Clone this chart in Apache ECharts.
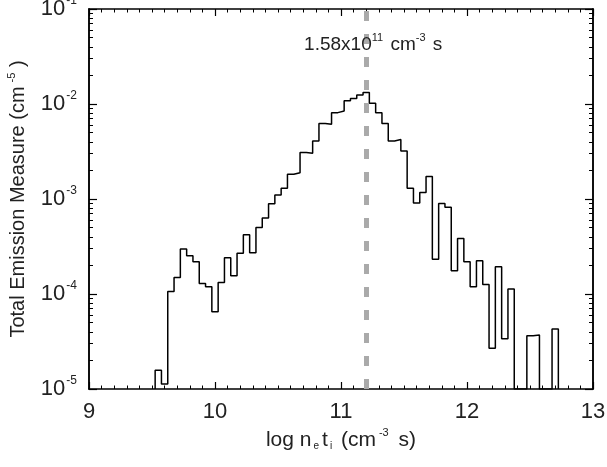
<!DOCTYPE html>
<html>
<head>
<meta charset="utf-8">
<script src="https://cdn.jsdelivr.net/npm/echarts@6/dist/echarts.min.js"></script>
<style>
  html, body { margin: 0; padding: 0; background: #fff; }
  #chart { width: 607px; height: 467px; }
</style>
</head>
<body>
<div id="chart"></div>
<script>
// bin centres of the histogram (log n_e t_i)
const binCenters = [
  9.55, 9.60, 9.65, 9.70, 9.75, 9.80, 9.85, 9.90, 9.95, 10.00,
  10.05, 10.10, 10.15, 10.20, 10.25, 10.30, 10.35, 10.40, 10.45, 10.50,
  10.55, 10.60, 10.65, 10.70, 10.75, 10.80, 10.85, 10.90, 10.95, 11.00,
  11.05, 11.10, 11.15, 11.20, 11.25, 11.30, 11.35, 11.40, 11.45, 11.50,
  11.55, 11.60, 11.65, 11.70, 11.75, 11.80, 11.85, 11.90, 11.95, 12.00,
  12.05, 12.10, 12.15, 12.20, 12.25, 12.30, 12.35, 12.40, 12.45, 12.50,
  12.55, 12.60, 12.65, 12.70
];
// total emission measure per bin (cm^-5), 0 = empty bin
const emValues = [
  1.58e-5, 1.13e-5, 1.06e-4, 1.49e-4, 2.98e-4, 2.53e-4, 2.19e-4, 1.29e-4, 1.19e-4, 6.5e-5,
  1.32e-4, 2.41e-4, 1.56e-4, 2.68e-4, 4.2e-4, 2.72e-4, 5.0e-4, 6.3e-4, 8.9e-4, 1.1e-3,
  1.30e-3, 1.82e-3, 1.89e-3, 3.08e-3, 3.03e-3, 4.08e-3, 6.25e-3, 6.11e-3, 8.11e-3, 8.43e-3,
  1.08e-2, 1.14e-2, 1.24e-2, 1.32e-2, 1.02e-2, 8.11e-3, 6.25e-3, 4.08e-3, 4.22e-3, 3.20e-3,
  1.30e-3, 9.08e-4, 1.17e-3, 1.72e-3, 2.32e-4, 8.99e-4, 8.17e-4, 1.76e-4, 3.83e-4, 2.19e-4,
  1.19e-4, 2.24e-4, 1.26e-4, 2.68e-5, 1.94e-4, 3.38e-5, 1.13e-4, 0, 0, 3.64e-5,
  3.70e-5, 0, 0, 4.29e-5
];
// y tick values
const yDecades = [1e-5, 1e-4, 1e-3, 1e-2, 1e-1];
const binWidth = 0.05;
const peakLogNt = 11.2;
const peakLabelY = 0.0418;
const yMin = 1e-5, yMax = 1e-1;

// histogram outline: each bin becomes a flat segment between its edges
const stepData = [[binCenters[0] - binWidth / 2, yMin]];
binCenters.forEach((c, i) => {
  const v = emValues[i] > 0 ? emValues[i] : yMin;
  stepData.push([+(c - binWidth / 2).toFixed(3), v], [+(c + binWidth / 2).toFixed(3), v]);
});
stepData.push([binCenters[binCenters.length - 1] + binWidth / 2, yMin]);

// minor ticks 2..9 of each decade
const yMinor = [];
for (let e = -5; e < -1; e++) {
  for (let m = 2; m <= 9; m++) yMinor.push(m * Math.pow(10, e));
}

const font = "'Liberation Sans', Arial, sans-serif";
const txt = '#222';
const axisLine = { show: true, lineStyle: { color: '#000', width: 1.5 } };

function xAx(pos, labels) {
  return {
    type: 'value', position: pos, min: 9, max: 13, interval: 1,
    nameMoveOverlap: false,
    axisLine: axisLine,
    axisTick: { show: true, inside: true, length: 7, lineStyle: { color: '#000', width: 1.2 } },
    minorTick: { show: true, splitNumber: 10, length: 3.5, lineStyle: { color: '#000', width: 1 } },
    splitLine: { show: false },
    axisLabel: { show: labels, fontSize: 22, color: txt, fontFamily: font, margin: 12 }
  };
}
function yAx(pos, major, labels) {
  const a = {
    type: 'log', logBase: 10, position: pos, min: yMin, max: yMax,
    nameMoveOverlap: false,
    axisLine: axisLine,
    axisTick: major
      ? { show: true, inside: true, length: 8, customValues: yDecades, lineStyle: { color: '#000', width: 1.2 } }
      : { show: true, inside: true, length: 4, customValues: yMinor, lineStyle: { color: '#000', width: 1 } },
    minorTick: { show: false },
    splitLine: { show: false },
    axisLabel: { show: false }
  };
  if (labels) {
    a.axisLabel = {
      show: true, margin: 12, fontFamily: font, customValues: yDecades,
      formatter: v => '{m|10}{s|' + Math.round(Math.log10(v)) + '}',
      rich: {
        m: { fontSize: 22, color: txt, fontFamily: font },
        s: { fontSize: 12, color: txt, fontFamily: font, padding: [0, 0, 16, 1] }
      }
    };
  }
  return a;
}

const yLeft = yAx('left', true, true);
yLeft.name = 'Total Emission Measure (cm{s|-5} )';
yLeft.nameLocation = 'middle';
yLeft.nameGap = 58;
yLeft.nameTextStyle = {
  fontSize: 20, color: txt, fontFamily: font,
  rich: { s: { fontSize: 11, color: txt, fontFamily: font, padding: [0, 0, 14, 4] } }
};

const xBottom = xAx('bottom', true);
xBottom.name = 'log n{b|e}t{b|i} (cm{s|-3} s)';
xBottom.nameLocation = 'middle';
xBottom.nameGap = 38;
xBottom.nameTextStyle = {
  fontSize: 21, color: txt, fontFamily: font,
  rich: {
    b: { fontSize: 10, color: txt, fontFamily: font, padding: [12, 3, 0, 2] },
    s: { fontSize: 11, color: txt, fontFamily: font, padding: [0, 4, 16, 3] }
  }
};

const chart = echarts.init(document.getElementById('chart'));
chart.setOption({
  animation: false,
  backgroundColor: '#fff',
  grid: { left: 89, right: 14, top: 9, bottom: 78, containLabel: false, outerBoundsMode: 'none' },
  xAxis: [xBottom, xAx('top', false)],
  yAxis: [yLeft, yAx('left', false, false), yAx('right', true, false), yAx('right', false, false)],
  series: [{
    type: 'line',
    data: stepData,
    showSymbol: false,
    clip: true,
    lineStyle: { color: '#000', width: 1.5 },
    markLine: {
      silent: true,
      symbol: ['none', 'none'],
      label: { show: false },
      lineStyle: { color: '#aaaaaa', width: 5, type: [10, 13] },
      data: [{ xAxis: peakLogNt }]
    },
    markPoint: {
      silent: true,
      symbol: 'rect',
      symbolSize: 0,
      label: {
        show: true, position: 'inside', offset: [7, 0],
        formatter: '1.58x10{s|11} cm{s|-3} s',
        fontSize: 19, color: txt, fontFamily: font,
        rich: { s: { fontSize: 11, color: txt, fontFamily: font, padding: [0, 2, 14, 0] } }
      },
      data: [{ coord: [peakLogNt, peakLabelY] }]
    }
  }]
});
</script>
</body>
</html>
